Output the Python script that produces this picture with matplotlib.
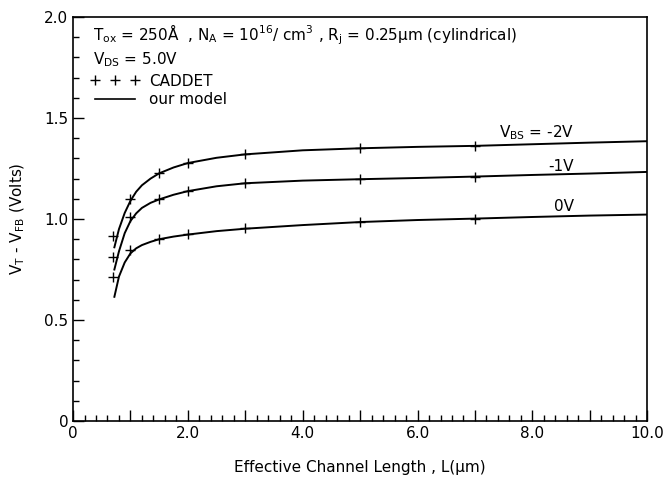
import matplotlib.pyplot as plt
from matplotlib.lines import Line2D

plt.rcParams['font.family'] = 'DejaVu Sans'
plt.rcParams['mathtext.default'] = 'regular'

# model curves
L_model = [0.72, 0.8, 0.9, 1.0, 1.1, 1.2, 1.35, 1.5, 1.75, 2.0, 2.5, 3.0, 4.0, 5.0, 6.0, 7.0, 8.0, 9.0, 10.0]
vt_m2 = [0.86, 0.95, 1.03, 1.09, 1.135, 1.167, 1.20, 1.226, 1.255, 1.277, 1.303, 1.32, 1.340, 1.350, 1.357, 1.362, 1.370, 1.378, 1.385]
vt_m1 = [0.75, 0.84, 0.93, 0.99, 1.028, 1.055, 1.08, 1.097, 1.12, 1.138, 1.162, 1.177, 1.190, 1.197, 1.203, 1.210, 1.218, 1.225, 1.233]
vt_0 = [0.615, 0.715, 0.785, 0.83, 0.855, 0.871, 0.887, 0.90, 0.913, 0.923, 0.94, 0.952, 0.970, 0.985, 0.995, 1.002, 1.010, 1.017, 1.022]

# CADDET points
L_cad = [0.7, 1.0, 1.5, 2.0, 3.0, 5.0, 7.0]
cad_m2 = [0.916, 1.097, 1.226, 1.279, 1.322, 1.350, 1.361]
cad_m1 = [0.813, 1.008, 1.097, 1.139, 1.177, 1.196, 1.209]
cad_0 = [0.714, 0.847, 0.900, 0.924, 0.954, 0.987, 1.001]

curve_labels = ['V$_{BS}$ = -2V', '-1V', '0V']
x_ticks = [0, 1, 2, 3, 4, 5, 6, 7, 8, 9, 10]
x_ticklabels = ['0', '', '2.0', '', '4.0', '', '6.0', '', '8.0', '', '10.0']
y_ticks = [0, 0.5, 1.0, 1.5, 2.0]
y_ticklabels = ['0', '0.5', '1.0', '1.5', '2.0']

fig = plt.figure(figsize=(6.7, 4.84), dpi=100)
ax = fig.add_axes([0.109, 0.130, 0.857, 0.835])

for vm, vc in [(vt_m2, cad_m2), (vt_m1, cad_m1), (vt_0, cad_0)]:
    ax.plot(L_model, vm, color='black', lw=1.4)
    ax.plot(L_cad, vc, ls='none', marker='+', color='black', ms=7, mew=1.0)

# curve labels
for lab, yv in zip(curve_labels, [1.426, 1.262, 1.06]):
    ax.text(8.72, yv, lab, ha='right', va='center', fontsize=11)

ax.set_xlim(0, 10)
ax.set_ylim(0, 2.0)
ax.set_xticks(x_ticks)
ax.set_xticklabels(x_ticklabels, fontsize=11)
ax.set_xticks([i * 0.2 for i in range(51)], minor=True)
ax.set_yticks(y_ticks)
ax.set_yticklabels(y_ticklabels, fontsize=11)
ax.set_yticks([i * 0.1 for i in range(21)], minor=True)
ax.tick_params(which='major', direction='in', length=8, width=1)
ax.tick_params(which='minor', direction='in', length=4, width=1)
for s in ax.spines.values():
    s.set_linewidth(1.2)

ax.set_xlabel('Effective Channel Length , L(μm)', fontsize=11, labelpad=14)
ax.set_ylabel('V$_T$ - V$_{FB}$ (Volts)', fontsize=11, labelpad=12)

ax.text(0.035, 0.955, 'T$_{ox}$ = 250Å  , N$_A$ = 10$^{16}$/ cm$^3$ , R$_j$ = 0.25μm (cylindrical)',
        transform=ax.transAxes, fontsize=11, va='center')
ax.text(0.035, 0.894, 'V$_{DS}$ = 5.0V', transform=ax.transAxes, fontsize=11, va='center')

handles = [Line2D([], [], ls='none', marker='+', color='black', ms=7, mew=1.0),
           Line2D([], [], color='black', lw=1.2)]
ax.legend(handles, ['CADDET', 'our model'], loc='upper left', bbox_to_anchor=(0.02, 0.875),
          frameon=False, numpoints=3, handlelength=3.2, handletextpad=0.6,
          labelspacing=0.25, fontsize=11, borderaxespad=0)

fig.savefig('out.png', dpi=100)
